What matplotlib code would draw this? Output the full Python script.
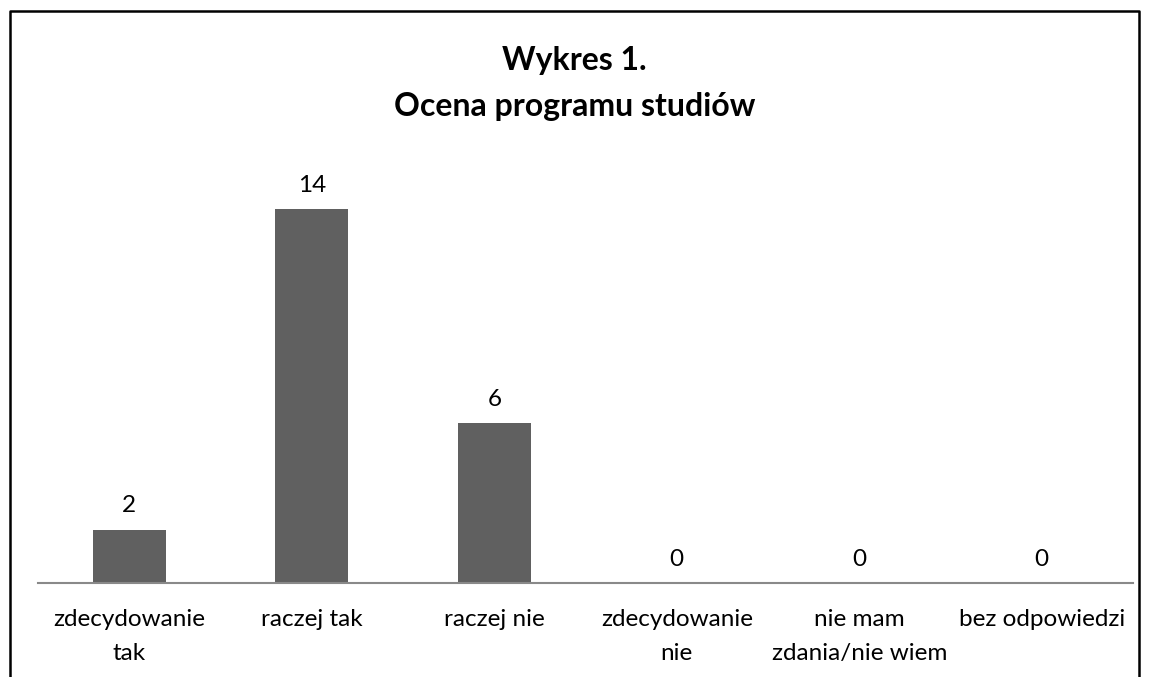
import matplotlib.pyplot as plt
from matplotlib.lines import Line2D

categories = ['zdecydowanie\ntak', 'raczej tak', 'raczej nie',
              'zdecydowanie\nnie', 'nie mam\nzdania/nie wiem', 'bez odpowiedzi']
values = [2, 14, 6, 0, 0, 0]

plt.rcParams['font.family'] = ['Lato', 'DejaVu Sans']

fig = plt.figure(figsize=(11.49, 6.77), dpi=100, facecolor='w')
ax = fig.add_axes([0.0331, 0.1388, 0.953, 0.6308])

x = range(len(categories))
bars = ax.bar(x, values, width=0.4, color='#606060')
ax.set_xlim(-0.5, len(categories) - 0.5)
ax.set_ylim(0, 16)

for xi, v in zip(x, values):
    ax.text(xi, v + 0.5, str(v), ha='center', va='bottom', fontsize=17.5)

ax.set_xticks(list(x))
ax.set_xticklabels(categories, fontsize=17.5, linespacing=1.75)
ax.tick_params(axis='x', length=0, pad=19)
ax.set_yticks([])
for s in ['top', 'right', 'left']:
    ax.spines[s].set_visible(False)
ax.spines['bottom'].set_color('#898989')
ax.spines['bottom'].set_linewidth(1.5)

fig.text(0.5, 0.877, 'Wykres 1.\nOcena programu studiów', ha='center', va='center',
         fontsize=23, fontweight='bold', linespacing=1.7)

# outer frame (bottom edge is cut off)
fig.add_artist(Line2D([0.0085, 0.0085, 0.9915, 0.9915], [-0.05, 0.984, 0.984, -0.05],
                      transform=fig.transFigure, color='black', lw=1.8))

fig.savefig('out.png', dpi=100)
